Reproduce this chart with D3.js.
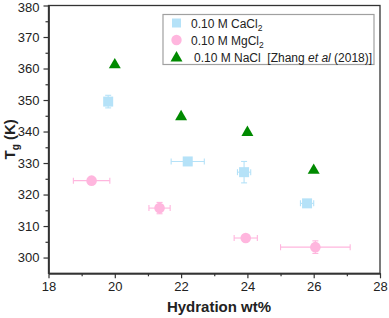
<!DOCTYPE html>
<html><head><meta charset="utf-8">
<script src="https://cdn.jsdelivr.net/npm/d3@7"></script>
<style>body{margin:0;background:#fff}svg{display:block;font-family:"Liberation Sans",Arial,sans-serif}</style>
</head><body><svg id="c" width="389" height="318"></svg>
<script>
// data
const xTicks = [18, 20, 22, 24, 26, 28];
const yTicks = [300, 310, 320, 330, 340, 350, 360, 370, 380];
const cacl2 = [
  {x: 19.8, y: 349.5, xe: 0, ye: 2.0},
  {x: 22.2, y: 330.5, xe: 0.5, ye: 0},
  {x: 23.9, y: 327.1, xe: 0.2, ye: 3.4},
  {x: 25.8, y: 317.2, xe: 0.2, ye: 0.6}
];
const mgcl2 = [
  {x: 19.3, y: 324.4, xe: 0.55, ye: 0},
  {x: 21.35, y: 315.7, xe: 0.32, ye: 1.8},
  {x: 23.95, y: 306.2, xe: 0.35, ye: 0},
  {x: 26.05, y: 303.3, xe: 1.05, ye: 2.0}
];
const nacl = [
  {x: 20, y: 361.5}, {x: 22, y: 345}, {x: 24, y: 340}, {x: 26, y: 328}
];
const legendLabels = ["0.10 M CaCl", "0.10 M MgCl", "0.10 M NaCl"];

const svg = d3.select("#c");
const L = 48.5, R = 380, T = 5.5, B = 273.3;
const x = d3.scaleLinear().domain([18, 28]).range([L, R]);
const y = d3.scaleLinear().domain([295, 380]).range([B, T]);
const axisCol = "#333";

// frame
svg.append("rect").attr("x", L).attr("y", T).attr("width", R - L).attr("height", B - T)
  .attr("fill", "none").attr("stroke", axisCol).attr("stroke-width", 1.3);

// axes
const xa = svg.append("g").attr("transform", `translate(0,${B})`)
  .call(d3.axisBottom(x).tickValues(xTicks).tickSize(5).tickSizeOuter(0).tickPadding(3));
const xm = svg.append("g").attr("transform", `translate(0,${B})`)
  .call(d3.axisBottom(x).tickValues(d3.range(19, 28, 2)).tickSize(3).tickFormat("").tickSizeOuter(0));
const ya = svg.append("g").attr("transform", `translate(${L},0)`)
  .call(d3.axisLeft(y).tickValues(yTicks).tickSize(5).tickSizeOuter(0).tickPadding(4));
const ym = svg.append("g").attr("transform", `translate(${L},0)`)
  .call(d3.axisLeft(y).tickValues(d3.range(305, 380, 10)).tickSize(3).tickFormat("").tickSizeOuter(0));
[xa, xm, ya, ym].forEach(g => {
  g.select(".domain").attr("stroke", axisCol).attr("stroke-width", 1.3);
  g.selectAll("line").attr("stroke", axisCol).attr("stroke-width", 1.2);
  g.selectAll("text").attr("fill", "#222").style("font-size", "13px").style("font-family", '"Liberation Sans",Arial,sans-serif');
});
// keep the top label inside the picture
ya.selectAll(".tick text").filter(d => d === 380).attr("dy", "0.32em").attr("y", 1.5);

// axis titles
svg.append("text").attr("x", 219).attr("y", 312).attr("text-anchor", "middle")
  .style("font-size", "15px").style("font-weight", "bold").attr("fill", "#222").text("Hydration wt%");
const yt = svg.append("text").attr("transform", `translate(15,${(T + B) / 2}) rotate(-90)`)
  .attr("text-anchor", "middle").style("font-size", "15px").style("font-weight", "bold").attr("fill", "#222");
yt.append("tspan").text("T");
yt.append("tspan").attr("dy", 4).style("font-size", "10px").text("g");
yt.append("tspan").attr("dy", -4).text(" (K)");

const blue = "#b5e2f8", pink = "#ffb6de", green = "#008a00";

function errbars(data, col) {
  const g = svg.append("g").attr("stroke", col).attr("stroke-width", 1.1).attr("fill", "none");
  data.forEach(d => {
    if (d.xe > 0) {
      g.append("line").attr("x1", x(d.x - d.xe)).attr("x2", x(d.x + d.xe)).attr("y1", y(d.y)).attr("y2", y(d.y));
      [d.x - d.xe, d.x + d.xe].forEach(v => g.append("line").attr("x1", x(v)).attr("x2", x(v)).attr("y1", y(d.y) - 3).attr("y2", y(d.y) + 3));
    }
    if (d.ye > 0) {
      g.append("line").attr("x1", x(d.x)).attr("x2", x(d.x)).attr("y1", y(d.y - d.ye)).attr("y2", y(d.y + d.ye));
      [d.y - d.ye, d.y + d.ye].forEach(v => g.append("line").attr("y1", y(v)).attr("y2", y(v)).attr("x1", x(d.x) - 3).attr("x2", x(d.x) + 3));
    }
  });
}
errbars(cacl2, blue);
errbars(mgcl2, pink);

svg.append("g").selectAll("rect").data(cacl2).join("rect")
  .attr("x", d => x(d.x) - 5).attr("y", d => y(d.y) - 5).attr("width", 10).attr("height", 10).attr("fill", blue);
svg.append("g").selectAll("circle").data(mgcl2).join("circle")
  .attr("cx", d => x(d.x)).attr("cy", d => y(d.y)).attr("r", 5.3).attr("fill", pink);
const tri = d3.symbol().type(d3.symbolTriangle).size(62);
svg.append("g").selectAll("path").data(nacl).join("path")
  .attr("transform", d => `translate(${x(d.x)},${y(d.y) + 1})`).attr("d", tri).attr("fill", green);

// legend
const lg = svg.append("g");
lg.append("rect").attr("x", 163).attr("y", 14.5).attr("width", 211).attr("height", 50)
  .attr("fill", "#fff").attr("stroke", "#a0a0a0").attr("stroke-width", 1.2);
const ly = [23, 40, 57];
lg.append("rect").attr("x", 172).attr("y", ly[0] - 4.5).attr("width", 9).attr("height", 9).attr("fill", blue);
lg.append("circle").attr("cx", 176.5).attr("cy", ly[1]).attr("r", 5.2).attr("fill", pink);
lg.append("path").attr("transform", `translate(176.5,${ly[2] + 1})`).attr("d", tri).attr("fill", green);
const lt = (yy, xx) => lg.append("text").attr("x", xx).attr("y", yy + 4.5).style("font-size", "12px").style("white-space", "pre").attr("fill", "#222");
let t0 = lt(ly[0], 191); t0.append("tspan").text(legendLabels[0]); t0.append("tspan").attr("dy", 3).style("font-size", "8.5px").text("2");
let t1 = lt(ly[1], 191); t1.append("tspan").text(legendLabels[1]); t1.append("tspan").attr("dy", 3).style("font-size", "8.5px").text("2");
let t2 = lt(ly[2], 194); t2.append("tspan").text(legendLabels[2] + "  [Zhang ");
t2.append("tspan").style("font-style", "italic").text("et al");
t2.append("tspan").text(" (2018)]");
</script></body></html>
